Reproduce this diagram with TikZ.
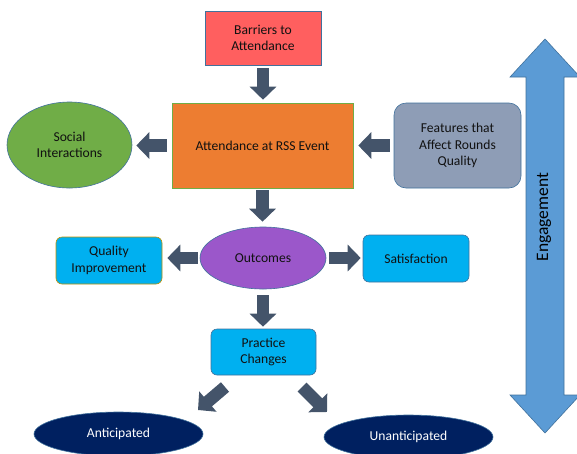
\documentclass[tikz,border=0pt]{standalone}
\usepackage{fontspec}
\setmainfont{Carlito}
\usetikzlibrary{arrows.meta,calc,shapes.geometric}
\definecolor{bordc}{HTML}{41719C}
\definecolor{redc}{HTML}{FF5F5F}
\definecolor{orangec}{HTML}{ED7D31}
\definecolor{greenb}{HTML}{70AD47}
\definecolor{greyc}{HTML}{8E9DB6}
\definecolor{purplec}{HTML}{9B57CA}
\definecolor{cyanc}{HTML}{00B0F0}
\definecolor{goldc}{HTML}{BF9000}
\definecolor{navyc}{HTML}{002060}
\definecolor{arrowc}{HTML}{44546A}
\definecolor{engc}{HTML}{5B9BD5}
\definecolor{txtc}{HTML}{111111}
\begin{document}
\begin{tikzpicture}[x=1pt,y=-1pt,
  base/.style={draw=bordc, line width=0.6pt, inner sep=0pt, align=center, text=txtc,
    font=\fontsize{13.6}{16.6}\selectfont},
  boxn/.style={base, rectangle},
  ell/.style={base, ellipse},
  blockarrow/.style={line width=12.5pt, draw=arrowc, -{Triangle[length=13pt,width=26pt]}}
]
\useasboundingbox (0,0) rectangle (577,453);

% Engagement double arrow
\fill[engc, draw=bordc, line width=0.6pt]
  (545,39) -- (580,77) -- (564,77) -- (564,395) -- (580,395) -- (545,433)
  -- (510,395) -- (526,395) -- (526,77) -- (510,77) -- cycle;
\node[font=\fontsize{17.5}{20}\selectfont, text=black, rotate=90] (eng) at (544,217) {Engagement};

\node[boxn, fill=redc, minimum width=116pt, minimum height=54pt] (barriers) at (263,38) {Barriers to\\Attendance};
\node[boxn, fill=orangec, draw=greenb, minimum width=181pt, minimum height=85pt] (attend) at (262.5,145.5) {Attendance at RSS Event};
\node[ell, fill=greenb, minimum width=125pt, minimum height=86pt] (social) at (69.5,145) {Social\\Interactions};
\node[boxn, fill=greyc, rounded corners=12pt, minimum width=127pt, minimum height=85pt] (features) at (457.5,145.5) {Features that\\Affect Rounds\\Quality};
\node[ell, fill=purplec, minimum width=126pt, minimum height=62pt] (outcomes) at (263,258) {Outcomes};
\node[boxn, fill=cyanc, draw=goldc, rounded corners=6pt, minimum width=106pt, minimum height=47pt] (qi) at (109,260.5) {Quality\\Improvement};
\node[boxn, fill=cyanc, rounded corners=6pt, minimum width=106pt, minimum height=47pt] (sat) at (416,258.5) {Satisfaction};
\node[boxn, fill=cyanc, rounded corners=6pt, minimum width=105pt, minimum height=46pt] (practice) at (263.5,352) {Practice\\Changes};
\node[ell, fill=navyc, text=white, minimum width=169pt, minimum height=44pt] (antic) at (118.5,434) {Anticipated};
\node[ell, fill=navyc, text=white, minimum width=169pt, minimum height=44pt] (unantic) at (408.5,437) {Unanticipated};

% block arrows
\draw[blockarrow, shorten <=3pt, shorten >=3pt] (barriers.south) -- (barriers.south |- attend.north);
\draw[blockarrow, shorten <=5pt, shorten >=4pt] (attend.west) -- (attend.west -| social.east);
\draw[blockarrow, shorten <=4pt, shorten >=5pt] (features.west) -- (features.west -| attend.east);
\draw[blockarrow, shorten <=2pt, shorten >=5pt] (attend.south) -- (attend.south |- outcomes.north);
\draw[blockarrow, shorten <=2pt, shorten >=5pt] (outcomes.west) -- (outcomes.west -| qi.east);
\draw[blockarrow, shorten <=3pt, shorten >=2pt] (outcomes.east) -- (outcomes.east -| sat.west);
\draw[blockarrow, shorten <=6pt, shorten >=2pt] (outcomes.south) -- (outcomes.south |- practice.north);

\coordinate (dls) at (225,387);
\coordinate (dlt) at (198,410);
\coordinate (drs) at (302,387);
\coordinate (drt) at (327,412);
\draw[blockarrow] (dls) -- (dlt);
\draw[blockarrow] (drs) -- (drt);
\end{tikzpicture}
\end{document}
